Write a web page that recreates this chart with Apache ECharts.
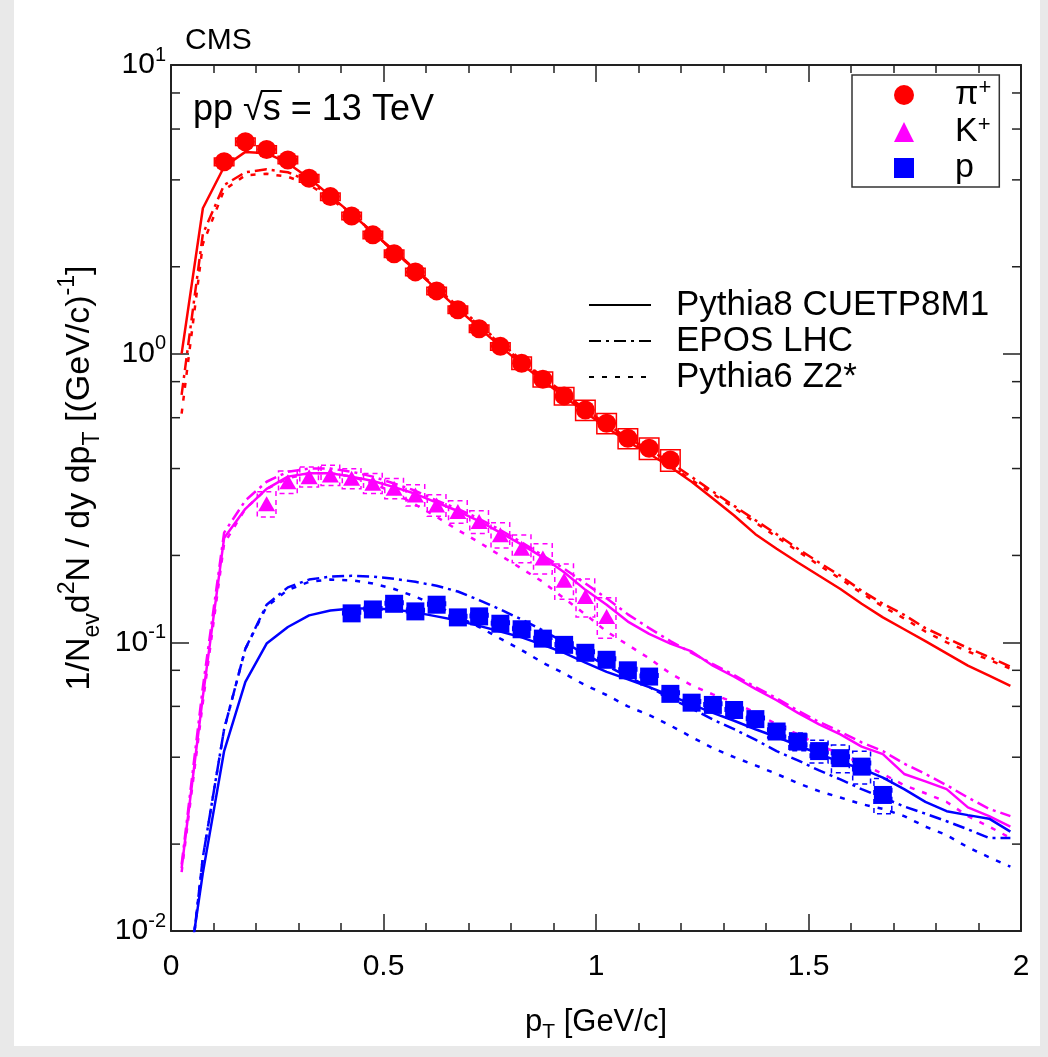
<!DOCTYPE html>
<html><head><meta charset="utf-8">
<script src="https://cdn.jsdelivr.net/npm/echarts@6/dist/echarts.min.js"></script>
<style>html,body{margin:0;padding:0;background:#fff}#c{width:1048px;height:1057px}</style>
</head><body><div id="c"></div>
<script>
// ---------------- data ----------------
const mcPt = [0.025,0.075,0.125,0.175,0.225,0.275,0.325,0.375,0.425,0.475,0.525,0.575,0.625,0.675,0.725,0.775,0.825,0.875,0.925,0.975,1.025,1.075,1.125,1.175,1.225,1.275,1.325,1.375,1.425,1.475,1.525,1.575,1.625,1.675,1.725,1.775,1.825,1.875,1.925,1.975];

const piPt = [0.125,0.175,0.225,0.275,0.325,0.375,0.425,0.475,0.525,0.575,0.625,0.675,0.725,0.775,0.825,0.875,0.925,0.975,1.025,1.075,1.125,1.175];
const piVal = [4.62,5.42,5.1,4.69,4.05,3.50,3.00,2.58,2.22,1.92,1.65,1.42,1.22,1.06,0.927,0.815,0.714,0.638,0.574,0.509,0.47,0.428];
const piSys = [0.03,0.03,0.03,0.03,0.03,0.03,0.03,0.03,0.03,0.03,0.03,0.03,0.03,0.03,0.05,0.06,0.07,0.08,0.08,0.08,0.085,0.085];

const kPt = [0.225,0.275,0.325,0.375,0.425,0.475,0.525,0.575,0.625,0.675,0.725,0.775,0.825,0.875,0.925,0.975,1.025];
const kVal = [0.302,0.360,0.375,0.380,0.370,0.356,0.342,0.324,0.299,0.284,0.262,0.236,0.212,0.196,0.164,0.144,0.123];
const kSys = [0.10,0.09,0.08,0.08,0.08,0.08,0.08,0.085,0.085,0.09,0.09,0.10,0.11,0.12,0.14,0.15,0.16];

const pPt = [0.425,0.475,0.525,0.575,0.625,0.675,0.725,0.775,0.825,0.875,0.925,0.975,1.025,1.075,1.125,1.175,1.225,1.275,1.325,1.375,1.425,1.475,1.525,1.575,1.625,1.675];
const pVal = [0.126,0.130,0.136,0.128,0.135,0.122,0.123,0.116,0.111,0.103,0.098,0.092,0.087,0.080,0.0761,0.0663,0.0618,0.0607,0.0583,0.0542,0.0491,0.0453,0.0420,0.0397,0.0371,0.0296];
const pSys = [0.03,0.03,0.03,0.03,0.03,0.03,0.03,0.03,0.03,0.03,0.03,0.03,0.03,0.03,0.03,0.03,0.03,0.03,0.03,0.03,0.05,0.07,0.09,0.11,0.13,0.14];

// MC predictions (same pT bins)
const piPythia8 = [1.0,3.19,4.44,5.0,4.95,4.57,4.05,3.52,3.05,2.63,2.26,1.95,1.67,1.43,1.23,1.06,0.92,0.805,0.71,0.625,0.555,0.495,0.45,0.405,0.36,0.315,0.275,0.237,0.211,0.189,0.170,0.153,0.136,0.122,0.111,0.101,0.0916,0.083,0.0767,0.0706];
const piEPOS = [0.72,2.6,3.84,4.25,4.35,4.25,3.95,3.5,3.05,2.63,2.27,1.96,1.69,1.46,1.26,1.09,0.95,0.83,0.73,0.64,0.57,0.51,0.465,0.42,0.374,0.333,0.297,0.265,0.237,0.211,0.189,0.17,0.151,0.136,0.1245,0.112,0.1035,0.0955,0.089,0.0824];
const piPythia6 = [0.62,2.4,3.69,4.15,4.2,4.1,3.85,3.45,3.02,2.62,2.26,1.95,1.68,1.45,1.25,1.08,0.94,0.82,0.72,0.63,0.56,0.50,0.455,0.41,0.365,0.327,0.292,0.26,0.232,0.207,0.185,0.166,0.148,0.133,0.121,0.109,0.1,0.093,0.087,0.081];

const kPythia8 = [0.0165,0.065,0.23,0.29,0.34,0.375,0.385,0.385,0.375,0.362,0.345,0.327,0.305,0.285,0.263,0.240,0.218,0.197,0.175,0.152,0.135,0.118,0.107,0.099,0.093,0.083,0.076,0.069,0.063,0.057,0.052,0.048,0.0435,0.041,0.035,0.033,0.031,0.0268,0.025,0.023];
const kEPOS = [0.017,0.07,0.24,0.31,0.36,0.39,0.40,0.40,0.39,0.375,0.355,0.335,0.31,0.29,0.268,0.245,0.222,0.200,0.180,0.160,0.142,0.125,0.112,0.101,0.092,0.084,0.077,0.070,0.064,0.058,0.053,0.049,0.045,0.042,0.038,0.035,0.032,0.029,0.0265,0.025];
const kPythia6 = [0.016,0.062,0.22,0.29,0.34,0.37,0.385,0.385,0.375,0.355,0.33,0.30,0.272,0.245,0.222,0.200,0.180,0.162,0.142,0.125,0.109,0.098,0.088,0.078,0.071,0.066,0.062,0.057,0.052,0.048,0.044,0.041,0.038,0.035,0.032,0.030,0.028,0.025,0.023,0.021];

const pPythia8 = [0.005,0.0159,0.042,0.073,0.099,0.113,0.124,0.129,0.131,0.131,0.130,0.127,0.123,0.119,0.114,0.109,0.104,0.098,0.092,0.085,0.079,0.0745,0.070,0.0655,0.061,0.057,0.0535,0.050,0.047,0.044,0.041,0.0385,0.0365,0.034,0.031,0.028,0.026,0.0252,0.0245,0.0221];
const pEPOS = [0.004,0.018,0.05,0.095,0.135,0.155,0.165,0.169,0.170,0.169,0.166,0.162,0.157,0.150,0.140,0.130,0.120,0.110,0.100,0.091,0.083,0.076,0.070,0.064,0.059,0.054,0.050,0.046,0.042,0.039,0.036,0.0335,0.031,0.029,0.027,0.0255,0.024,0.0225,0.021,0.021];
const pPythia6 = [0.004,0.018,0.05,0.095,0.133,0.152,0.162,0.165,0.164,0.160,0.153,0.144,0.134,0.123,0.113,0.103,0.094,0.085,0.078,0.071,0.0657,0.060,0.056,0.0515,0.047,0.043,0.040,0.0375,0.035,0.0325,0.0305,0.029,0.0275,0.0265,0.025,0.023,0.0215,0.0195,0.018,0.0167];

const xTicks = [0, 0.5, 1, 1.5, 2];
const yMinorTicks = [0.02,0.04,0.06,0.08,0.2,0.4,0.6,0.8,2,4,6,8];
const modelNames = ['Pythia8 CUETP8M1','EPOS LHC','Pythia6 Z2*'];
const particleNames = ['π+','K+','p'];

// ---------------- styles ----------------
const FONT = "'Liberation Sans', Arial, Helvetica, sans-serif";
const RED = '#ff0000', MAG = '#ff00ff', BLUE = '#0000ff';
const DASHDOT = [12, 5, 3, 5];
const DOTTED = [5, 8];
const LINE_W = 2.5;
const AX = '#222';

const zip = (xs, ys) => xs.map((x, i) => [x, ys[i]]);
const zip3 = (xs, ys, es) => xs.map((x, i) => [x, ys[i], es[i]]);

function mcSeries(name, vals, color, type) {
  return { type: 'line', name: name, data: zip(mcPt, vals), showSymbol: false, symbol: 'none',
    lineStyle: { color: color, width: LINE_W, type: type }, itemStyle: { color: color },
    z: 3, silent: true, clip: true, legendHoverLink: false };
}
function boxSeries(data, color, dashed, halfW) {
  return { type: 'custom', name: 'sys', data: data, z: 2, silent: true, clip: true,
    encode: { x: 0, y: 1 },
    renderItem: function (params, api) {
      const x = api.value(0), y = api.value(1), r = api.value(2);
      const a = api.coord([x - halfW, y * (1 + r)]);
      const b = api.coord([x + halfW, y * (1 - r)]);
      return { type: 'rect', shape: { x: a[0], y: a[1], width: b[0] - a[0], height: b[1] - a[1] },
        style: { fill: 'none', stroke: color, lineWidth: 1.5, lineDash: dashed ? [5, 4] : null } };
    } };
}

// text measurement for the sqrt overline
const mctx = document.createElement('canvas').getContext('2d');
const PP_FONT = '36px ' + FONT;
mctx.font = PP_FONT;
const ppLeft = 193, ppTop = 92;
const sStart = ppLeft + mctx.measureText('pp √').width;
const sEnd = sStart + mctx.measureText('s').width;

const chart = echarts.init(document.getElementById('c'), null, { renderer: 'canvas' });

const legendLabel = { 'π+': '{t|π}{s|+}', 'K+': '{t|K}{s|+}', 'p': '{t|p}' };

const option = {
  backgroundColor: '#e9e9e9',
  animation: false,
  grid: { left: 171, top: 65, width: 850, height: 866, containLabel: false },
  xAxis: [
    { type: 'value', min: 0, max: 2, interval: 0.5, position: 'bottom',
      axisLine: { show: true, onZero: false, lineStyle: { color: AX, width: 2 } },
      axisTick: { show: true, inside: true, length: 17, lineStyle: { color: AX, width: 1.5 } },
      minorTick: { show: true, splitNumber: 5, length: 8, lineStyle: { color: AX, width: 1.5 } },
      splitLine: { show: false },
      axisLabel: { show: true, margin: 21, fontSize: 30, fontFamily: FONT, color: '#000',
        formatter: v => xTicks.indexOf(v) >= 0 ? String(v) : '' },
      name: '{n|p}{sub|T}{n| [GeV/c]}', nameLocation: 'middle', nameGap: 70,
      nameTextStyle: { rich: {
        n: { fontSize: 31, lineHeight: 42, fontFamily: FONT, color: '#000' },
        sub: { fontSize: 21, lineHeight: 20, verticalAlign: 'bottom', fontFamily: FONT, color: '#000' } } } },
    { type: 'value', min: 0, max: 2, interval: 0.5, position: 'top',
      axisLine: { show: true, onZero: false, lineStyle: { color: AX, width: 2 } },
      axisTick: { show: true, inside: true, length: 17, lineStyle: { color: AX, width: 1.5 } },
      minorTick: { show: true, splitNumber: 5, length: 8, lineStyle: { color: AX, width: 1.5 } },
      splitLine: { show: false }, axisLabel: { show: false } }
  ],
  yAxis: [
    { type: 'log', logBase: 10, min: 0.01, max: 10, position: 'left',
      axisLine: { show: true, onZero: false, lineStyle: { color: AX, width: 2 } },
      axisTick: { show: true, inside: true, length: 18, lineStyle: { color: AX, width: 1.5 } },
      splitLine: { show: false },
      axisLabel: { show: true, margin: 5, fontFamily: FONT, color: '#000',
        formatter: v => '{b|10}{s|' + Math.round(Math.log10(v)) + '}',
        rich: { b: { fontSize: 30, lineHeight: 40, fontFamily: FONT, color: '#000' },
                s: { fontSize: 20, lineHeight: 20, verticalAlign: 'top', fontFamily: FONT, color: '#000' } } },
      name: '{n|1/N}{sub|ev}{n|d}{sup|2}{n|N / dy dp}{sub|T}{n| [(GeV/c)}{sup|-1}{n|]}',
      nameLocation: 'middle', nameRotate: 90, nameGap: 58,
      nameTextStyle: { padding: [0, 0, 0, 40], rich: {
        n: { fontSize: 34, lineHeight: 48, fontFamily: FONT, color: '#000' },
        sub: { fontSize: 23, lineHeight: 22, verticalAlign: 'bottom', fontFamily: FONT, color: '#000' },
        sup: { fontSize: 23, lineHeight: 22, verticalAlign: 'top', fontFamily: FONT, color: '#000' } } } },
    { type: 'log', logBase: 10, min: 0.01, max: 10, position: 'right',
      axisLine: { show: true, onZero: false, lineStyle: { color: AX, width: 2 } },
      axisTick: { show: true, inside: true, length: 18, lineStyle: { color: AX, width: 1.5 } },
      splitLine: { show: false }, axisLabel: { show: false } }
  ],
  legend: [
    { data: particleNames, orient: 'vertical', left: 852, top: 75, selectedMode: false,
      padding: [2, 8, 2, 42], itemGap: 2, itemWidth: 20, itemHeight: 20,
      borderColor: '#333', borderWidth: 1.5, backgroundColor: '#fff',
      formatter: n => legendLabel[n],
      textStyle: { padding: [0, 0, 0, 36], fontFamily: FONT, color: '#000',
        rich: { t: { fontSize: 34, lineHeight: 36, fontFamily: FONT, color: '#000' },
                s: { fontSize: 22, lineHeight: 20, verticalAlign: 'top', fontFamily: FONT, color: '#000' } } } },
    { data: modelNames, orient: 'vertical', left: 588, top: 287, selectedMode: false,
      padding: 0, itemGap: 0, itemWidth: 62, itemHeight: 14,
      itemStyle: { opacity: 0 },
      textStyle: { padding: [0, 0, 0, 20], fontSize: 35, lineHeight: 36, fontFamily: FONT, color: '#000' } }
  ],
  graphic: [
    { type: 'rect', left: 14, top: 0, shape: { width: 1026, height: 1046 }, style: { fill: '#fff' }, z: -10, silent: true },
    { type: 'text', left: 185, top: 26, style: { text: 'CMS', font: '30px ' + FONT, fill: '#000' }, silent: true },
    { type: 'text', left: ppLeft, top: ppTop, style: { text: 'pp √s = 13 TeV', font: PP_FONT, fill: '#000' }, silent: true },
    { type: 'line', shape: { x1: sStart - 2, y1: ppTop - 1, x2: sEnd + 1, y2: ppTop - 1 }, style: { stroke: '#000', lineWidth: 2 }, silent: true }
  ],
  series: [
    // minor log ticks on left and right frame
    { type: 'custom', name: 'yminor', data: yMinorTicks.map(v => [0, v]), encode: { x: 0, y: 1 }, silent: true, z: 5, clip: false,
      renderItem: function (params, api) {
        const v = api.value(1);
        const l = api.coord([0, v]), r = api.coord([2, v]);
        return { type: 'group', children: [
          { type: 'line', shape: { x1: l[0], y1: l[1], x2: l[0] + 9, y2: l[1] }, style: { stroke: AX, lineWidth: 1.5 } },
          { type: 'line', shape: { x1: r[0] - 9, y1: r[1], x2: r[0], y2: r[1] }, style: { stroke: AX, lineWidth: 1.5 } } ] };
      } },
    boxSeries(zip3(piPt, piVal, piSys), RED, false, 0.023),
    boxSeries(zip3(kPt, kVal, kSys), MAG, true, 0.022),
    boxSeries(zip3(pPt, pVal, pSys), BLUE, true, 0.021),
    mcSeries('pi-p8', piPythia8, RED, 'solid'),
    mcSeries('pi-epos', piEPOS, RED, DASHDOT),
    mcSeries('pi-p6', piPythia6, RED, DOTTED),
    mcSeries('k-p8', kPythia8, MAG, 'solid'),
    mcSeries('k-epos', kEPOS, MAG, DASHDOT),
    mcSeries('k-p6', kPythia6, MAG, DOTTED),
    mcSeries('p-p8', pPythia8, BLUE, 'solid'),
    mcSeries('p-epos', pEPOS, BLUE, DASHDOT),
    mcSeries('p-p6', pPythia6, BLUE, DOTTED),
    // legend-only entries for the model line styles
    { type: 'line', name: modelNames[0], data: [], symbol: 'none', lineStyle: { color: '#000', width: LINE_W, type: 'solid' }, itemStyle: { color: '#000' } },
    { type: 'line', name: modelNames[1], data: [], symbol: 'none', lineStyle: { color: '#000', width: LINE_W, type: DASHDOT }, itemStyle: { color: '#000' } },
    { type: 'line', name: modelNames[2], data: [], symbol: 'none', lineStyle: { color: '#000', width: LINE_W, type: DOTTED }, itemStyle: { color: '#000' } },
    // data points
    { type: 'scatter', name: particleNames[0], data: zip(piPt, piVal), symbol: 'circle', symbolSize: 19, itemStyle: { color: RED, opacity: 1 }, z: 4, silent: true },
    { type: 'scatter', name: particleNames[1], data: zip(kPt, kVal), symbol: 'triangle', symbolSize: [17, 15], itemStyle: { color: MAG, opacity: 1 }, z: 4, silent: true },
    { type: 'scatter', name: particleNames[2], data: zip(pPt, pVal), symbol: 'rect', symbolSize: 18, itemStyle: { color: BLUE, opacity: 1 }, z: 4, silent: true }
  ]
};
chart.setOption(option);
</script>
</body></html>
